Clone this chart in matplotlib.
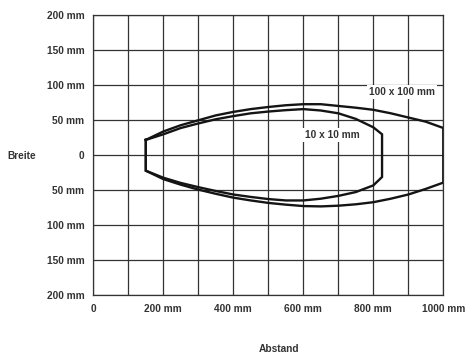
import matplotlib
matplotlib.use("Agg")
import matplotlib.pyplot as plt
import numpy as np

# Data (mm)
outer_x = [150, 200, 250, 300, 350, 400, 450, 500, 550, 600, 650, 700, 750, 800, 850, 900, 950, 1000]
outer_top = [22, 34, 43, 50, 57, 62, 66, 69, 71.5, 73, 73, 70.5, 68, 65, 60, 54, 48, 39]
outer_bot = [-22, -34, -42, -49, -55, -60.5, -64.5, -68, -70.5, -72.5, -73, -72, -70, -67, -62, -56, -48, -39]

inner_x = [150, 200, 250, 300, 350, 400, 450, 500, 550, 600, 650, 700, 750, 800, 825]
inner_top = [22, 30, 39, 45.5, 51.5, 56, 60, 62.5, 64.5, 66, 64, 60, 52, 40, 30]
inner_bot = [-22, -32, -39.5, -45.5, -51, -56, -59.5, -62.5, -64.5, -64.5, -62, -58, -52.5, -43, -31]

x_ticks = [0, 200, 400, 600, 800, 1000]
x_labels = ["0", "200 mm", "400 mm", "600 mm", "800 mm", "1000 mm"]
y_ticks = [200, 150, 100, 50, 0, -50, -100, -150, -200]
y_labels = ["200 mm", "150 mm", "100 mm", "50 mm", "0", "50 mm", "100 mm", "150 mm", "200 mm"]

label_outer = "100 x 100 mm"
label_inner = "10 x 10 mm"

plt.rcParams['font.family'] = ['Liberation Sans', 'DejaVu Sans']
txt_color = '#333333'
grid_color = '#333333'
fs = 7.3

fig = plt.figure(figsize=(4.66, 3.54), dpi=100)
ax = fig.add_axes([93.3/466, 1 - 295.3/354, 350/466, 280/354])

ax.set_xlim(0, 1000)
ax.set_ylim(-200, 200)
ax.set_xticks(np.arange(0, 1001, 100), minor=True)
ax.set_xticks(x_ticks)
ax.set_xticklabels(x_labels)
ax.set_yticks(y_ticks)
ax.set_yticklabels(y_labels)
ax.tick_params(which='both', length=0)
ax.tick_params(axis='x', pad=6.5)
ax.tick_params(axis='y', pad=6.5)
for lab in ax.get_xticklabels() + ax.get_yticklabels():
    lab.set_fontsize(fs)
    lab.set_fontweight('bold')
    lab.set_color(txt_color)

ax.grid(True, which='both', color=grid_color, lw=0.9)
ax.set_axisbelow(True)
for s in ax.spines.values():
    s.set_color(grid_color)
    s.set_linewidth(0.9)

def closed(xs, top, bot):
    px = list(xs) + list(xs[::-1]) + [xs[0]]
    py = list(top) + list(bot[::-1]) + [top[0]]
    return px, py

ox, oy = closed(outer_x, outer_top, outer_bot)
ix, iy = closed(inner_x, inner_top, inner_bot)
ax.plot(ox, oy, color='#141414', lw=1.7, solid_joinstyle='miter', zorder=3)
ax.plot(ix, iy, color='#141414', lw=1.7, solid_joinstyle='miter', zorder=3)

bbox = dict(facecolor='white', edgecolor='none', pad=1.5)
ax.text(883, 90, label_outer, ha='center', va='center', fontsize=fs,
        fontweight='bold', color=txt_color, bbox=bbox, zorder=4)
ax.text(682, 29, label_inner, ha='center', va='center', fontsize=fs,
        fontweight='bold', color=txt_color, bbox=bbox, zorder=4)

fig.text(22/466, 1 - 156.3/354, "Breite", ha='center', va='center',
         fontsize=fs, fontweight='bold', color=txt_color)
fig.text(279/466, 1 - 349/354, "Abstand", ha='center', va='center',
         fontsize=fs, fontweight='bold', color=txt_color)

fig.savefig("out.png", dpi=100)
